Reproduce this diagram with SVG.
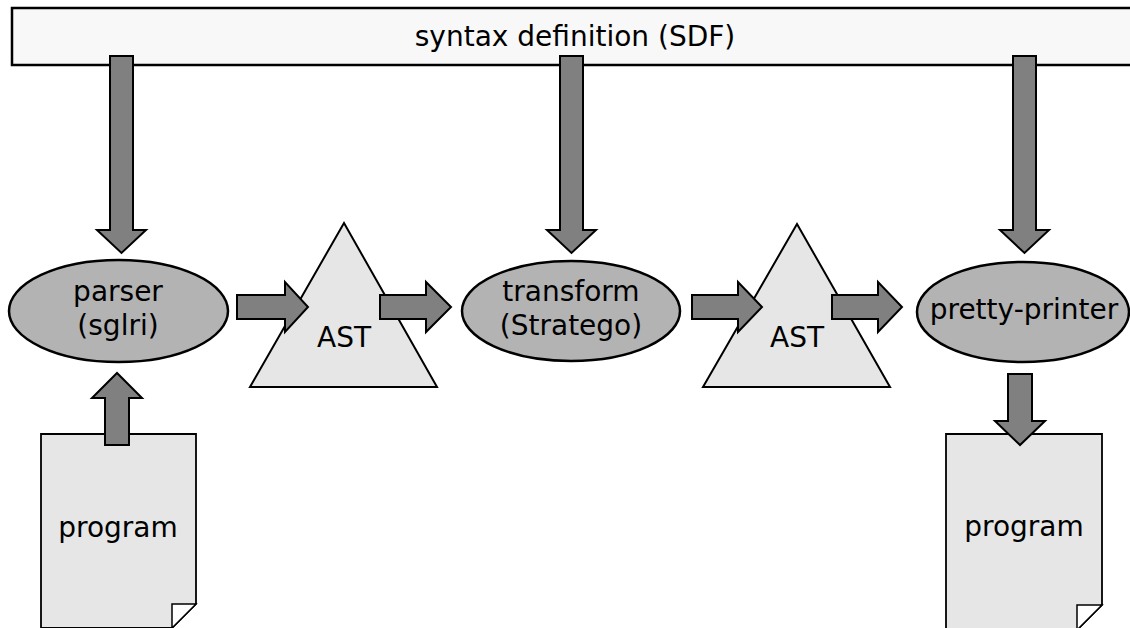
<svg xmlns="http://www.w3.org/2000/svg" width="1130" height="628" viewBox="0 0 1130 628">
<style>
.t{font-family:"DejaVu Sans","Liberation Sans",sans-serif;font-size:28px;fill:#000;text-anchor:middle}
.arr{fill:#808080;stroke:#000;stroke-width:2;stroke-linejoin:miter}
.ell{fill:#b3b3b3;stroke:#000;stroke-width:2.5}
.tri{fill:#e6e6e6;stroke:#000;stroke-width:2}
.doc{fill:#e6e6e6;stroke:#000;stroke-width:1.8}
.fold{fill:#fff;stroke:#000;stroke-width:1.5}
</style>
<rect width="1130" height="628" fill="#fff"/>
<g id="sdf">
<rect x="12" y="8" width="1130" height="57" fill="#f8f8f8" stroke="#000" stroke-width="2.5"/>
<text class="t" x="575" y="46">syntax definition (SDF)</text>
</g>
<g id="doc1">
<path class="doc" d="M41,434 H196 V604 L172,628 H41 Z"/>
<path class="fold" d="M172,604 H196 L172,628 Z"/>
<text class="t" x="118" y="537">program</text>
</g>
<g id="doc2">
<path class="doc" d="M946,434 H1102 V605 L1077,630 H946 Z"/>
<path class="fold" d="M1077,605 H1102 L1077,630 Z"/>
<text class="t" x="1024" y="536">program</text>
</g>
<g id="parser">
<ellipse class="ell" cx="118.5" cy="311" rx="109.5" ry="51"/>
<text class="t" x="118" y="301">parser</text>
<text class="t" x="118" y="335">(sglri)</text>
</g>
<g id="ast1">
<path class="tri" d="M344,223 L437,387 H250 Z"/>
<text class="t" x="344" y="347">AST</text>
</g>
<g id="transform">
<ellipse class="ell" cx="571" cy="311" rx="109" ry="50"/>
<text class="t" x="571" y="301">transform</text>
<text class="t" x="571" y="335">(Stratego)</text>
</g>
<g id="ast2">
<path class="tri" d="M797,224 L890,387 H703 Z"/>
<text class="t" x="797" y="347">AST</text>
</g>
<g id="prettyprinter">
<ellipse class="ell" cx="1023" cy="312" rx="106" ry="50"/>
<text class="t" x="1024" y="319">pretty-printer</text>
</g>
<g id="connectors">
<path class="arr" d="M110,56 H133 V230 H146 L121.5,253 L97,230 H110 Z"/>
<path class="arr" d="M560,56 H583 V230 H596 L571.5,253 L547,230 H560 Z"/>
<path class="arr" d="M1013,56 H1036 V230 H1049 L1024.5,253 L1000,230 H1013 Z"/>
<path class="arr" d="M105,445 H129 V398 H142 L117,373 L92,398 H105 Z"/>
<path class="arr" d="M1008,374 H1032 V421 H1045 L1020,445 L995,421 H1008 Z"/>
<path class="arr" d="M237,295 H285 V282 L308,307 L285,332 V319 H237 Z"/>
<path class="arr" d="M380,295 H426 V282 L451,307 L426,332 V319 H380 Z"/>
<path class="arr" d="M692,295 H738 V282 L762,307 L738,332 V319 H692 Z"/>
<path class="arr" d="M832,295 H878 V282 L902,307 L878,332 V319 H832 Z"/>
</g>
</svg>
